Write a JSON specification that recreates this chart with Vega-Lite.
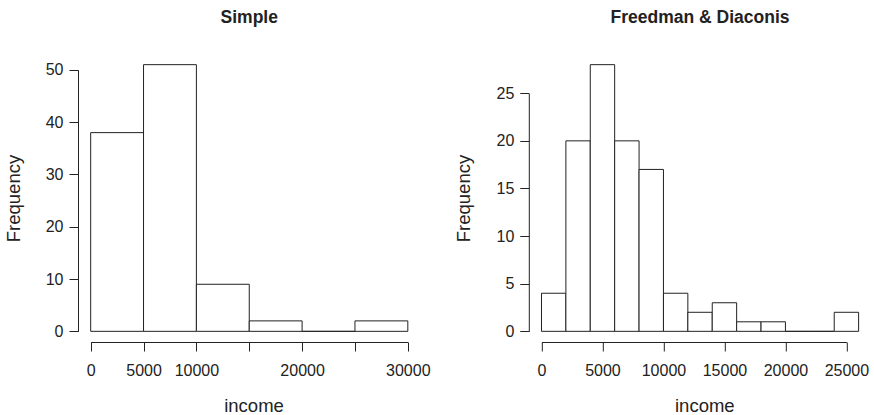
{
  "$schema": "https://vega.github.io/schema/vega-lite/v6.json",
  "background": "white",
  "autosize": {"type": "pad"},
  "padding": {"left": 4, "top": 8, "right": 0, "bottom": 0},
  "config": {
    "view": {"stroke": null},
    "font": "Liberation Sans",
    "axis": {
      "grid": false,
      "domainColor": "#222",
      "tickColor": "#222",
      "labelColor": "#222",
      "titleColor": "#222",
      "labelFont": "Liberation Sans",
      "titleFont": "Liberation Sans",
      "labelFontSize": 16,
      "titleFontSize": 18.5,
      "titleFontWeight": "normal",
      "tickSize": 9,
      "tickWidth": 1,
      "domainWidth": 1,
      "labelFlush": false,
      "labelOverlap": false
    },
    "axisX": {"labelBaseline": "alphabetic", "labelPadding": 24, "titleBaseline": "alphabetic", "titleY": 69.6, "titleX": 175.5},
    "axisY": {"labelPadding": 6, "titleX": -55, "titleY": 144, "titleBaseline": "bottom"},
    "title": {"fontSize": 17.5, "fontWeight": "bold", "color": "#222", "font": "Liberation Sans", "anchor": "middle", "offset": 28}
  },
  "datasets": {
    "simple": [
      {"bin_start": 0, "bin_end": 5000, "count": 38},
      {"bin_start": 5000, "bin_end": 10000, "count": 51},
      {"bin_start": 10000, "bin_end": 15000, "count": 9},
      {"bin_start": 15000, "bin_end": 20000, "count": 2},
      {"bin_start": 20000, "bin_end": 25000, "count": 0},
      {"bin_start": 25000, "bin_end": 30000, "count": 2}
    ],
    "fd": [
      {"bin_start": 0, "bin_end": 2000, "count": 4},
      {"bin_start": 2000, "bin_end": 4000, "count": 20},
      {"bin_start": 4000, "bin_end": 6000, "count": 28},
      {"bin_start": 6000, "bin_end": 8000, "count": 20},
      {"bin_start": 8000, "bin_end": 10000, "count": 17},
      {"bin_start": 10000, "bin_end": 12000, "count": 4},
      {"bin_start": 12000, "bin_end": 14000, "count": 2},
      {"bin_start": 14000, "bin_end": 16000, "count": 3},
      {"bin_start": 16000, "bin_end": 18000, "count": 1},
      {"bin_start": 18000, "bin_end": 20000, "count": 1},
      {"bin_start": 20000, "bin_end": 22000, "count": 0},
      {"bin_start": 22000, "bin_end": 24000, "count": 0},
      {"bin_start": 24000, "bin_end": 26000, "count": 2}
    ]
  },
  "bounds": "flush",
  "spacing": 107.8,
  "hconcat": [
    {
      "title": "Simple",
      "width": 342.5,
      "height": 288,
      "data": {"name": "simple"},
      "mark": {"type": "rect", "fill": "white", "stroke": "#222", "strokeWidth": 1},
      "encoding": {
        "x": {
          "field": "bin_start", "type": "quantitative",
          "scale": {"domain": [-1200, 31200], "nice": false, "zero": false},
          "axis": {
            "title": "income",
            "values": [0, 5000, 10000, 15000, 20000, 25000, 30000],
            "format": "d",
            "labelExpr": "datum.value == 15000 || datum.value == 25000 ? '' : datum.label",
            "domainDash": [0, 12.68, 317.1, 2000]
          }
        },
        "x2": {"field": "bin_end"},
        "y": {
          "field": "count", "type": "quantitative",
          "scale": {"domain": [-2.04, 53.04], "nice": false, "zero": false},
          "axis": {
            "title": "Frequency",
            "values": [0, 10, 20, 30, 40, 50],
            "domainDash": [0, 10.67, 261.5, 2000]
          }
        },
        "y2": {"datum": 0}
      }
    },
    {
      "title": "Freedman & Diaconis",
      "width": 342.5,
      "height": 288,
      "data": {"name": "fd"},
      "mark": {"type": "rect", "fill": "white", "stroke": "#222", "strokeWidth": 1},
      "encoding": {
        "x": {
          "field": "bin_start", "type": "quantitative",
          "scale": {"domain": [-1040, 27040], "nice": false, "zero": false},
          "axis": {
            "title": "income",
            "values": [0, 5000, 10000, 15000, 20000, 25000],
            "format": "d",
            "domainDash": [0, 12.68, 304.9, 2000]
          }
        },
        "x2": {"field": "bin_end"},
        "y": {
          "field": "count", "type": "quantitative",
          "scale": {"domain": [-1.12, 29.12], "nice": false, "zero": false},
          "axis": {
            "title": "Frequency",
            "values": [0, 5, 10, 15, 20, 25],
            "domainDash": [0, 10.67, 238.1, 2000]
          }
        },
        "y2": {"datum": 0}
      }
    }
  ]
}
